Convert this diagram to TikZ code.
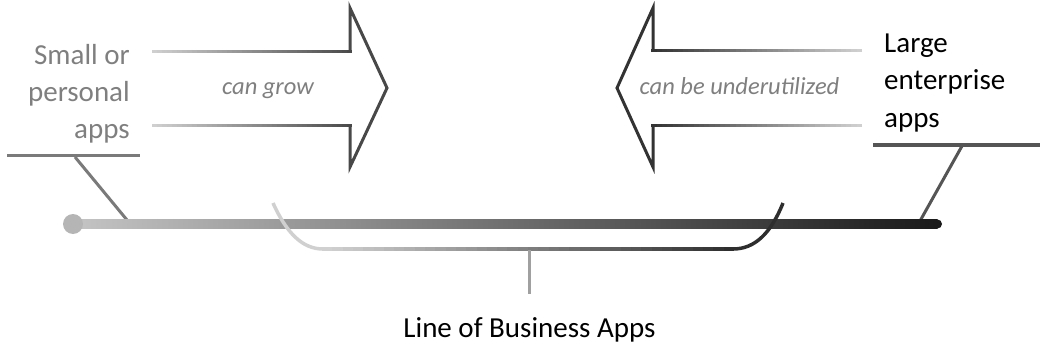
\documentclass[tikz,border=0pt]{standalone}
\usepackage{fontspec}
\setmainfont{Carlito}
\definecolor{barL}{HTML}{C4C4C4}
\definecolor{barR}{HTML}{1A1A1A}
\definecolor{dotc}{HTML}{B5B5B5}
\definecolor{shL}{HTML}{CFCFCF}
\definecolor{shD}{HTML}{4A4A4A}
\definecolor{headL}{HTML}{484848}
\definecolor{headR}{HTML}{333333}
\definecolor{brL}{HTML}{D0D0D0}
\definecolor{brR}{HTML}{2E2E2E}
\definecolor{txtgray}{HTML}{7F7F7F}
\definecolor{leftln}{HTML}{7A7A7A}
\definecolor{rightln}{HTML}{555555}
\definecolor{stemc}{HTML}{A0A0A0}
\newcommand\gradline[6]{%
  \foreach \gi in {0,...,39}{%
    \pgfmathsetmacro\gxa{#1+(\gi/40)*(#2-#1)}%
    \pgfmathsetmacro\gxb{#1+((\gi+1)/40)*(#2-#1)+0.4*sign(#2-#1)}%
    \pgfmathtruncatemacro\gp{100*\gi/39}%
    \draw[line width=#6, draw=#5!\gp!#4] (\gxa,#3) -- (\gxb,#3);
  }}
\tikzset{
  bigtxt/.style={font=\fontsize{29pt}{37pt}\selectfont, inner sep=0pt},
  ittxt/.style={font=\fontsize{24.5pt}{30pt}\selectfont\itshape, text=txtgray, inner sep=0pt},
  headline/.style={line width=3pt, line join=miter},
}
\begin{document}
\begin{tikzpicture}[x=1pt,y=-1pt]
\useasboundingbox (0,0) rectangle (1040,350);

% left label
\node[bigtxt, text=txtgray, anchor=base east] (s1) at (130,65) {Small or};
\node[bigtxt, text=txtgray, anchor=base east] (s2) at (130,101.5) {personal};
\node[bigtxt, text=txtgray, anchor=base east] (s3) at (130,138) {apps};
\draw[leftln, line width=3.5pt] (7,155.5) coordinate (ulA) -- (140,155.5) coordinate (ulB);
\draw[leftln, line width=3pt] (75,157) -- (127,220);

% right label
\node[bigtxt, text=black, anchor=base west] (l1) at (884,53) {Large};
\node[bigtxt, text=black, anchor=base west] (l2) at (884,90) {enterprise};
\node[bigtxt, text=black, anchor=base west] (l3) at (884,127) {apps};
\draw[rightln, line width=3.5pt] (873,145) -- (1040,145);
\draw[rightln, line width=3pt] (962,146) -- (920,221);

% left arrow (can grow)
\gradline{152}{351.5}{52}{shL}{shD}{3pt}
\gradline{152}{351.5}{125}{shL}{shD}{3pt}
\draw[headline, headL] (350,52) -- (350,8) -- (387,88) -- (350,167) -- (350,125);
\node[ittxt, anchor=base] (grow) at (268,95) {can grow};

% right arrow (can be underutilized)
\gradline{862}{651.5}{51}{shL}{headR}{3pt}
\gradline{862}{651.5}{125}{shL}{headR}{3pt}
\draw[headline, headR] (653,51) -- (653,8) -- (617,88) -- (653,167) -- (653,125);
\node[ittxt, anchor=base] (under) at (739.5,95) {can be underutilized};

% main bar
\shade[left color=barL, right color=barR] (73,219.5) rectangle (937.5,228.5);
\fill[barR] (937.5,224) circle (4.5pt);
\fill[dotc] (73,224) circle (10pt);

% bracket
\draw[brL, line width=3.5pt] (273,203) .. controls (287,234) and (303,249) .. (323,249);
\gradline{322}{734}{249}{brL}{brR}{3.5pt}
\draw[brR, line width=3.5pt] (733,249) .. controls (755,249) and (771,233) .. (783,203);
\draw[stemc, line width=3pt] (529,250) -- (529,294);

% bottom label
\node[bigtxt, text=black, anchor=base] (lob) at (529.5,337) {Line of Business Apps};
\end{tikzpicture}
\end{document}
